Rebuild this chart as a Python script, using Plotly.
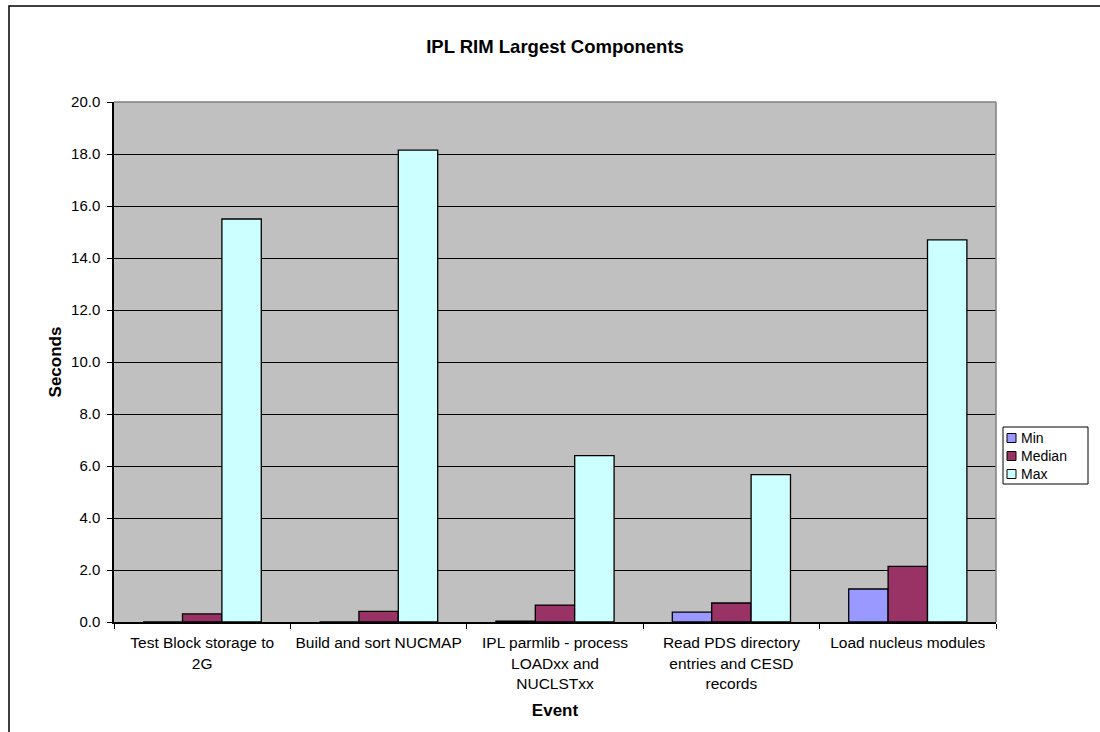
import plotly.graph_objects as go

# Event categories (line breaks mirror the wrapped axis labels)
events = [
    "Test Block storage to<br>2G",
    "Build and sort NUCMAP",
    "IPL parmlib - process<br>LOADxx and<br>NUCLSTxx",
    "Read PDS directory<br>entries and CESD<br>records",
    "Load nucleus modules",
]

# Elapsed seconds per event
min_seconds = [0.0, 0.0, 0.03, 0.38, 1.27]
median_seconds = [0.31, 0.41, 0.65, 0.73, 2.14]
max_seconds = [15.5, 18.15, 6.4, 5.67, 14.7]

y_ticks = [0, 2, 4, 6, 8, 10, 12, 14, 16, 18, 20]

series_names = ["Min", "Median", "Max"]
series_values = [min_seconds, median_seconds, max_seconds]
series_colors = ["#9999FF", "#993366", "#CCFFFF"]

font_family = "Liberation Sans, Arial, sans-serif"

# Plot-area placement in pixels
W, H = 1100, 732
L, R, T, B = 114, 104, 102, 110
PW, PH = W - L - R, H - T - B


def px_x(x):
    return (x - L) / PW


def px_y(y):
    return (H - B - y) / PH


fig = go.Figure()
for name, values, color in zip(series_names, series_values, series_colors):
    fig.add_trace(go.Bar(
        name=name,
        x=events,
        y=values,
        marker=dict(color=color, line=dict(color="black", width=1.3)),
        showlegend=False,
    ))

fig.update_layout(
    width=W,
    height=H,
    margin=dict(l=L, r=R, t=T, b=B),
    paper_bgcolor="white",
    plot_bgcolor="#C0C0C0",
    barmode="group",
    bargap=0.33,
    bargroupgap=0,
    font=dict(family=font_family, size=15, color="black"),
    title=dict(
        text="<b>IPL RIM Largest Components</b>",
        x=0.5, xref="paper", xanchor="center",
        y=1 - 47 / H, yref="container", yanchor="middle",
        font=dict(size=18.5, family=font_family),
    ),
    showlegend=False,
)

fig.update_xaxes(
    type="category",
    showline=True, linecolor="black", linewidth=1.5,
    ticks="outside", tickson="boundaries", ticklen=5, tickcolor="black",
    ticklabelstandoff=6,
    showgrid=False,
    tickfont=dict(size=15.5),
    title=dict(text="<b>Event</b>", font=dict(size=17), standoff=13),
)

fig.update_yaxes(
    range=[0, 20],
    tickvals=y_ticks,
    tickformat=".1f",
    showline=True, linecolor="black", linewidth=1.5,
    ticks="outside", ticklen=5, tickcolor="black",
    ticklabelstandoff=4,
    showgrid=True, gridcolor="black", gridwidth=1,
    zeroline=False,
    tickfont=dict(size=15),
    title=dict(text="<b>Seconds</b>", font=dict(size=17), standoff=5),
)

# Gray frame on top and right of the plot area
fig.add_shape(type="line", xref="paper", yref="paper", x0=0, x1=1, y0=1, y1=1,
              line=dict(color="#808080", width=1.5), layer="above")
fig.add_shape(type="line", xref="paper", yref="paper", x0=1, x1=1, y0=0, y1=1,
              line=dict(color="#808080", width=1.5), layer="above")

# Outer chart border (runs off the right and bottom of the page)
fig.add_shape(type="rect", xref="paper", yref="paper",
              x0=px_x(9), x1=px_x(1110), y0=px_y(745), y1=px_y(6),
              line=dict(color="black", width=1.5), fillcolor="rgba(0,0,0,0)",
              layer="below")

# Legend: framed box with a small swatch and label per series
box_left, box_right, box_top, box_bottom = 1003, 1088, 427, 484
fig.add_shape(type="rect", xref="paper", yref="paper",
              x0=px_x(box_left), x1=px_x(box_right),
              y0=px_y(box_bottom), y1=px_y(box_top),
              line=dict(color="black", width=1), fillcolor="white")
row_y = [438, 456, 474]
for name, color, yc in zip(series_names, series_colors, row_y):
    fig.add_shape(type="rect", xref="paper", yref="paper",
                  x0=px_x(1007), x1=px_x(1016),
                  y0=px_y(yc + 4.5), y1=px_y(yc - 4.5),
                  line=dict(color="black", width=1), fillcolor=color)
    fig.add_annotation(xref="paper", yref="paper",
                       x=px_x(1019), y=px_y(yc),
                       xanchor="left", yanchor="middle",
                       text=name, showarrow=False,
                       font=dict(size=14, family=font_family, color="black"))

fig.write_html("out.html")
